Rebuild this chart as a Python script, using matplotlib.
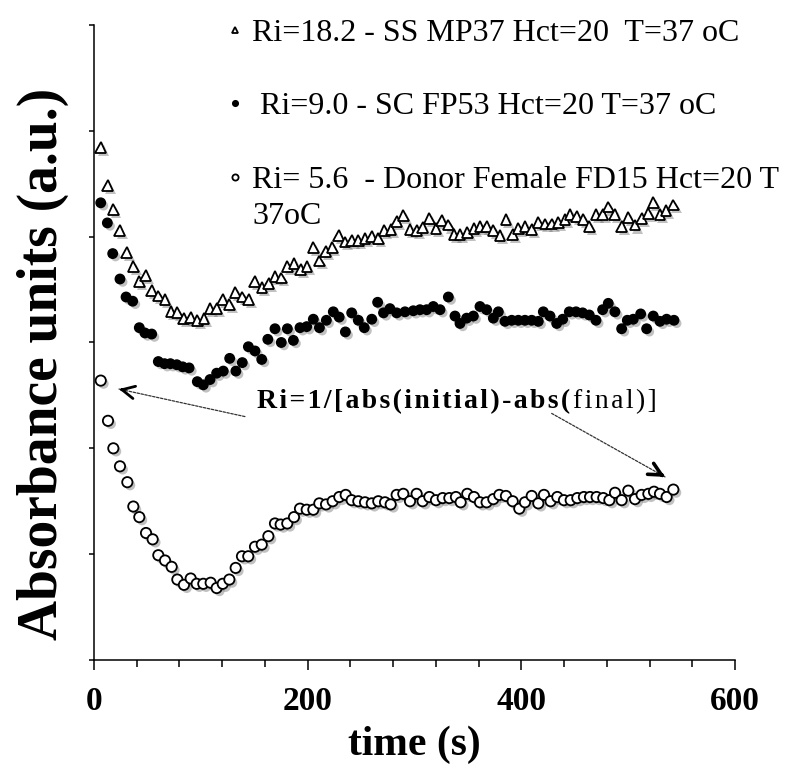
import matplotlib
matplotlib.use('Agg')
import matplotlib.pyplot as plt
import matplotlib.patheffects as pe
from matplotlib.font_manager import FontProperties
from matplotlib.ticker import MultipleLocator, NullFormatter

# ---------------- data ----------------
time_ss = [6.3, 13.0, 18.0, 24.0, 30.6, 36.8, 42.4, 48.4, 54.0, 60.0, 66.5, 72.0, 78.0, 84.0,
           90.5, 96.7, 103.0, 108.6, 114.8, 120.5, 126.7, 132.3, 138.8, 144.8, 150.4, 157.3,
           163.5, 169.4, 175.3, 181.0, 187.2, 193.5, 199.4, 205.3, 211.0, 217.0, 223.0, 229.0,
           235.0, 241.2, 247.4, 253.7, 260.0, 266.0, 271.7, 278.0, 283.3, 289.6, 295.8, 302.0,
           307.7, 313.9, 320.1, 325.5, 331.7, 337.0, 342.6, 349.5, 355.7, 361.3, 367.6, 373.8,
           380.0, 385.6, 391.9, 397.2, 403.4, 409.7, 415.9, 422.2, 428.4, 434.6, 440.9, 445.6,
           451.8, 458.0, 463.6, 469.9, 476.1, 481.4, 487.6, 493.9, 500.1, 506.4, 512.6, 518.9,
           523.6, 529.8, 535.4, 542.3]
abs_ss = [4.84, 4.48, 4.26, 4.06, 3.85, 3.72, 3.58, 3.63, 3.49, 3.44, 3.41, 3.29, 3.28, 3.23,
          3.24, 3.21, 3.23, 3.32, 3.32, 3.41, 3.36, 3.47, 3.43, 3.41, 3.58, 3.52,
          3.56, 3.62, 3.61, 3.72, 3.75, 3.69, 3.72, 3.90, 3.77, 3.86, 3.90, 4.01,
          3.95, 3.96, 3.96, 3.98, 4.00, 3.98, 4.06, 4.07, 4.14, 4.20, 4.07, 4.06,
          4.09, 4.17, 4.08, 4.15, 4.11, 4.02, 4.02, 4.04, 4.08, 4.10, 4.10, 4.06,
          4.01, 4.16, 4.02, 4.08, 4.10, 4.07, 4.13, 4.12, 4.12, 4.13, 4.16, 4.21,
          4.19, 4.16, 4.10, 4.21, 4.21, 4.28, 4.21, 4.10, 4.18, 4.11, 4.17, 4.22,
          4.32, 4.21, 4.25, 4.30]

time_sc = [6.3, 12.5, 17.5, 24.3, 30.0, 36.2, 42.4, 47.7, 54.0, 60.2, 66.0, 71.5, 77.5, 83.0,
           89.0, 96.7, 102.3, 108.6, 114.8, 121.0, 127.0, 132.8, 138.8, 144.5, 150.7, 157.0,
           162.7, 169.4, 175.3, 181.0, 186.6, 192.8, 199.1, 205.3, 211.0, 217.5, 224.0, 229.5,
           235.3, 241.2, 247.4, 253.0, 260.0, 265.5, 271.0, 277.0, 283.3, 291.1, 298.9, 305.1,
           311.4, 317.6, 323.9, 331.7, 337.9, 342.6, 348.8, 355.1, 361.3, 367.5, 373.8, 378.5,
           384.7, 391.0, 397.2, 403.4, 409.7, 415.9, 420.6, 426.8, 433.1, 438.7, 444.9, 451.2,
           457.4, 463.6, 469.9, 476.1, 481.4, 487.6, 493.9, 499.2, 504.8, 511.7, 517.3, 523.5,
           529.8, 536.0, 542.9]
abs_sc = [4.32, 4.13, 3.84, 3.60, 3.43, 3.39, 3.14, 3.09, 3.08, 2.82, 2.80, 2.80, 2.79, 2.77,
          2.76, 2.63, 2.60, 2.65, 2.71, 2.73, 2.85, 2.73, 2.81, 2.96, 2.92, 2.84,
          3.03, 3.13, 3.00, 3.13, 3.02, 3.14, 3.15, 3.22, 3.14, 3.21, 3.29, 3.24,
          3.10, 3.28, 3.21, 3.14, 3.22, 3.38, 3.28, 3.32, 3.28, 3.29, 3.30, 3.31,
          3.31, 3.34, 3.31, 3.43, 3.25, 3.18, 3.23, 3.25, 3.34, 3.31, 3.23, 3.29,
          3.20, 3.21, 3.21, 3.21, 3.21, 3.20, 3.29, 3.25, 3.18, 3.22, 3.29, 3.29,
          3.28, 3.26, 3.21, 3.31, 3.37, 3.29, 3.13, 3.21, 3.22, 3.27, 3.13, 3.25,
          3.20, 3.22, 3.21]

time_donor = [6.3, 13.1, 18.1, 24.3, 31.2, 36.8, 42.4, 48.7, 54.9, 60.2, 66.5, 72.7, 78.0, 84.2,
              90.5, 96.1, 102.3, 109.2, 114.8, 120.5, 126.7, 132.6, 138.5, 144.4, 150.7, 157.0,
              163.2, 169.4, 174.7, 180.9, 187.2, 192.8, 199.1, 205.3, 210.9, 217.2, 223.4, 229.6,
              235.6, 241.2, 247.4, 253.7, 260.0, 266.1, 272.4, 277.7, 283.3, 289.5, 295.8, 302.0,
              307.6, 313.9, 320.1, 326.4, 332.6, 338.8, 343.2, 349.4, 355.7, 361.3, 367.5, 373.8,
              379.4, 385.6, 391.9, 398.1, 403.4, 409.7, 415.9, 421.2, 427.4, 433.7, 439.9, 446.2,
              452.4, 458.6, 464.3, 470.5, 476.7, 482.4, 487.7, 493.9, 500.1, 506.4, 512.6, 518.9,
              524.2, 529.8, 536.0, 542.3]
abs_donor = [2.64, 2.26, 2.00, 1.83, 1.68, 1.45, 1.35, 1.20, 1.14, 0.99, 0.94, 0.88, 0.76, 0.71,
             0.77, 0.72, 0.72, 0.73, 0.68, 0.72, 0.76, 0.87, 0.98, 0.98, 1.07, 1.09,
             1.17, 1.29, 1.28, 1.29, 1.35, 1.43, 1.42, 1.42, 1.48, 1.47, 1.50, 1.54,
             1.56, 1.51, 1.50, 1.49, 1.48, 1.50, 1.49, 1.47, 1.56, 1.57, 1.50, 1.57,
             1.50, 1.54, 1.51, 1.53, 1.53, 1.54, 1.49, 1.57, 1.54, 1.49, 1.49, 1.52,
             1.56, 1.55, 1.50, 1.43, 1.49, 1.55, 1.48, 1.56, 1.50, 1.54, 1.51, 1.51,
             1.53, 1.54, 1.54, 1.54, 1.53, 1.51, 1.58, 1.51, 1.60, 1.52, 1.56, 1.57,
             1.59, 1.57, 1.54, 1.61]

series_labels = ['Ri=18.2 - SS MP37 Hct=20  T=37 oC',
                 ' Ri=9.0 - SC FP53 Hct=20 T=37 oC',
                 'Ri= 5.6  - Donor Female FD15 Hct=20 T']
label_cont = '37oC'
x_ticks = [0, 200, 400, 600]
x_label = 'time (s)'
y_label = 'Absorbance units (a.u.)'
formula_bold = 'Ri=1/[abs(initial)-abs('
formula_plain = 'final)]'

# ---------------- figure ----------------
SERIF = ['Liberation Serif', 'DejaVu Serif']
plt.rcParams['font.family'] = SERIF

fig = plt.figure(figsize=(7.86, 7.72), dpi=100)
ax = fig.add_axes([0.1196, 0.1451, 0.8155, 0.8225])

shadow = [pe.SimplePatchShadow(offset=(2, -2.2), shadow_rgbFace='0.4', alpha=0.4), pe.Normal()]

ax.plot(time_ss, abs_ss, ls='none', marker='^', ms=7.8, mfc='white', mec='black', mew=1.3,
        label=series_labels[0], path_effects=shadow)
ax.plot(time_sc, abs_sc, ls='none', marker='o', ms=6.8, mfc='black', mec='black', mew=1.0,
        label=series_labels[1], path_effects=shadow)
ax.plot(time_donor, abs_donor, ls='none', marker='o', ms=7.4, mfc='white', mec='black', mew=1.3,
        label=series_labels[2], path_effects=shadow)

ax.set_xlim(0, 600)
ax.set_ylim(0, 6)
ax.set_xticks(x_ticks)
ax.set_xticklabels([str(v) for v in x_ticks])
ax.xaxis.set_minor_locator(MultipleLocator(40))
ax.yaxis.set_major_locator(MultipleLocator(1))
ax.yaxis.set_major_formatter(NullFormatter())
for s in ('top', 'right'):
    ax.spines[s].set_visible(False)
for s in ('left', 'bottom'):
    ax.spines[s].set_linewidth(1.1)
ax.tick_params(axis='x', which='major', direction='out', length=7, width=1.1, pad=12,
               labelsize=24)
ax.tick_params(axis='x', which='minor', direction='out', length=5, width=1.1)
ax.tick_params(axis='y', which='major', direction='out', length=3.5, width=1.1)
for lab in ax.get_xticklabels():
    lab.set_fontweight('bold')

ax.set_xlabel(x_label, fontsize=30, fontweight='bold', va='center')
ax.xaxis.set_label_coords(0.5, -0.134)
ax.set_ylabel(y_label, fontsize=40, fontweight='bold', va='center')
ax.yaxis.set_label_coords(-0.08, 0.466)

leg = ax.legend(loc='upper left', bbox_to_anchor=(0.192, 1.01), frameon=False,
                prop=FontProperties(family=SERIF, size=23), handlelength=1.1,
                handletextpad=0.0, labelspacing=1.38, borderpad=0, borderaxespad=0,
                markerscale=0.6)
for h in leg.legend_handles:
    h.set_path_effects([])
ax.annotate(label_cont, xy=(0, 0), xycoords=leg.get_texts()[2], xytext=(0, -29),
            textcoords='offset pixels', va='baseline', ha='left', fontsize=23, zorder=10)

HAIR = '\u200a'
t1 = ax.text(153, 2.38, HAIR.join(formula_bold), fontsize=20, fontweight='bold',
             va='baseline', ha='left', zorder=10)
ax.annotate(HAIR.join(formula_plain), xy=(1, 0), xycoords=t1, xytext=(2, 0),
            textcoords='offset points', va='bottom', ha='left', fontsize=20, zorder=11)


def arrow(start, end, head_lw):
    ax.annotate('', xy=end, xytext=start,
                arrowprops=dict(arrowstyle='-', linestyle=(0, (2, 1.2)), lw=0.9, color='0.2',
                                shrinkA=0, shrinkB=0))
    back = (end[0] + (start[0] - end[0]) * 0.03, end[1] + (start[1] - end[1]) * 0.03)
    ax.annotate('', xy=end, xytext=back,
                arrowprops=dict(arrowstyle='->,head_length=0.9,head_width=0.45', lw=head_lw,
                                color='black', shrinkA=0, shrinkB=0))


arrow((141.3, 2.30), (23.4, 2.56), 2.0)
arrow((428.4, 2.33), (534.5, 1.73), 2.6)

fig.savefig('out.png', dpi=100, facecolor='white')
